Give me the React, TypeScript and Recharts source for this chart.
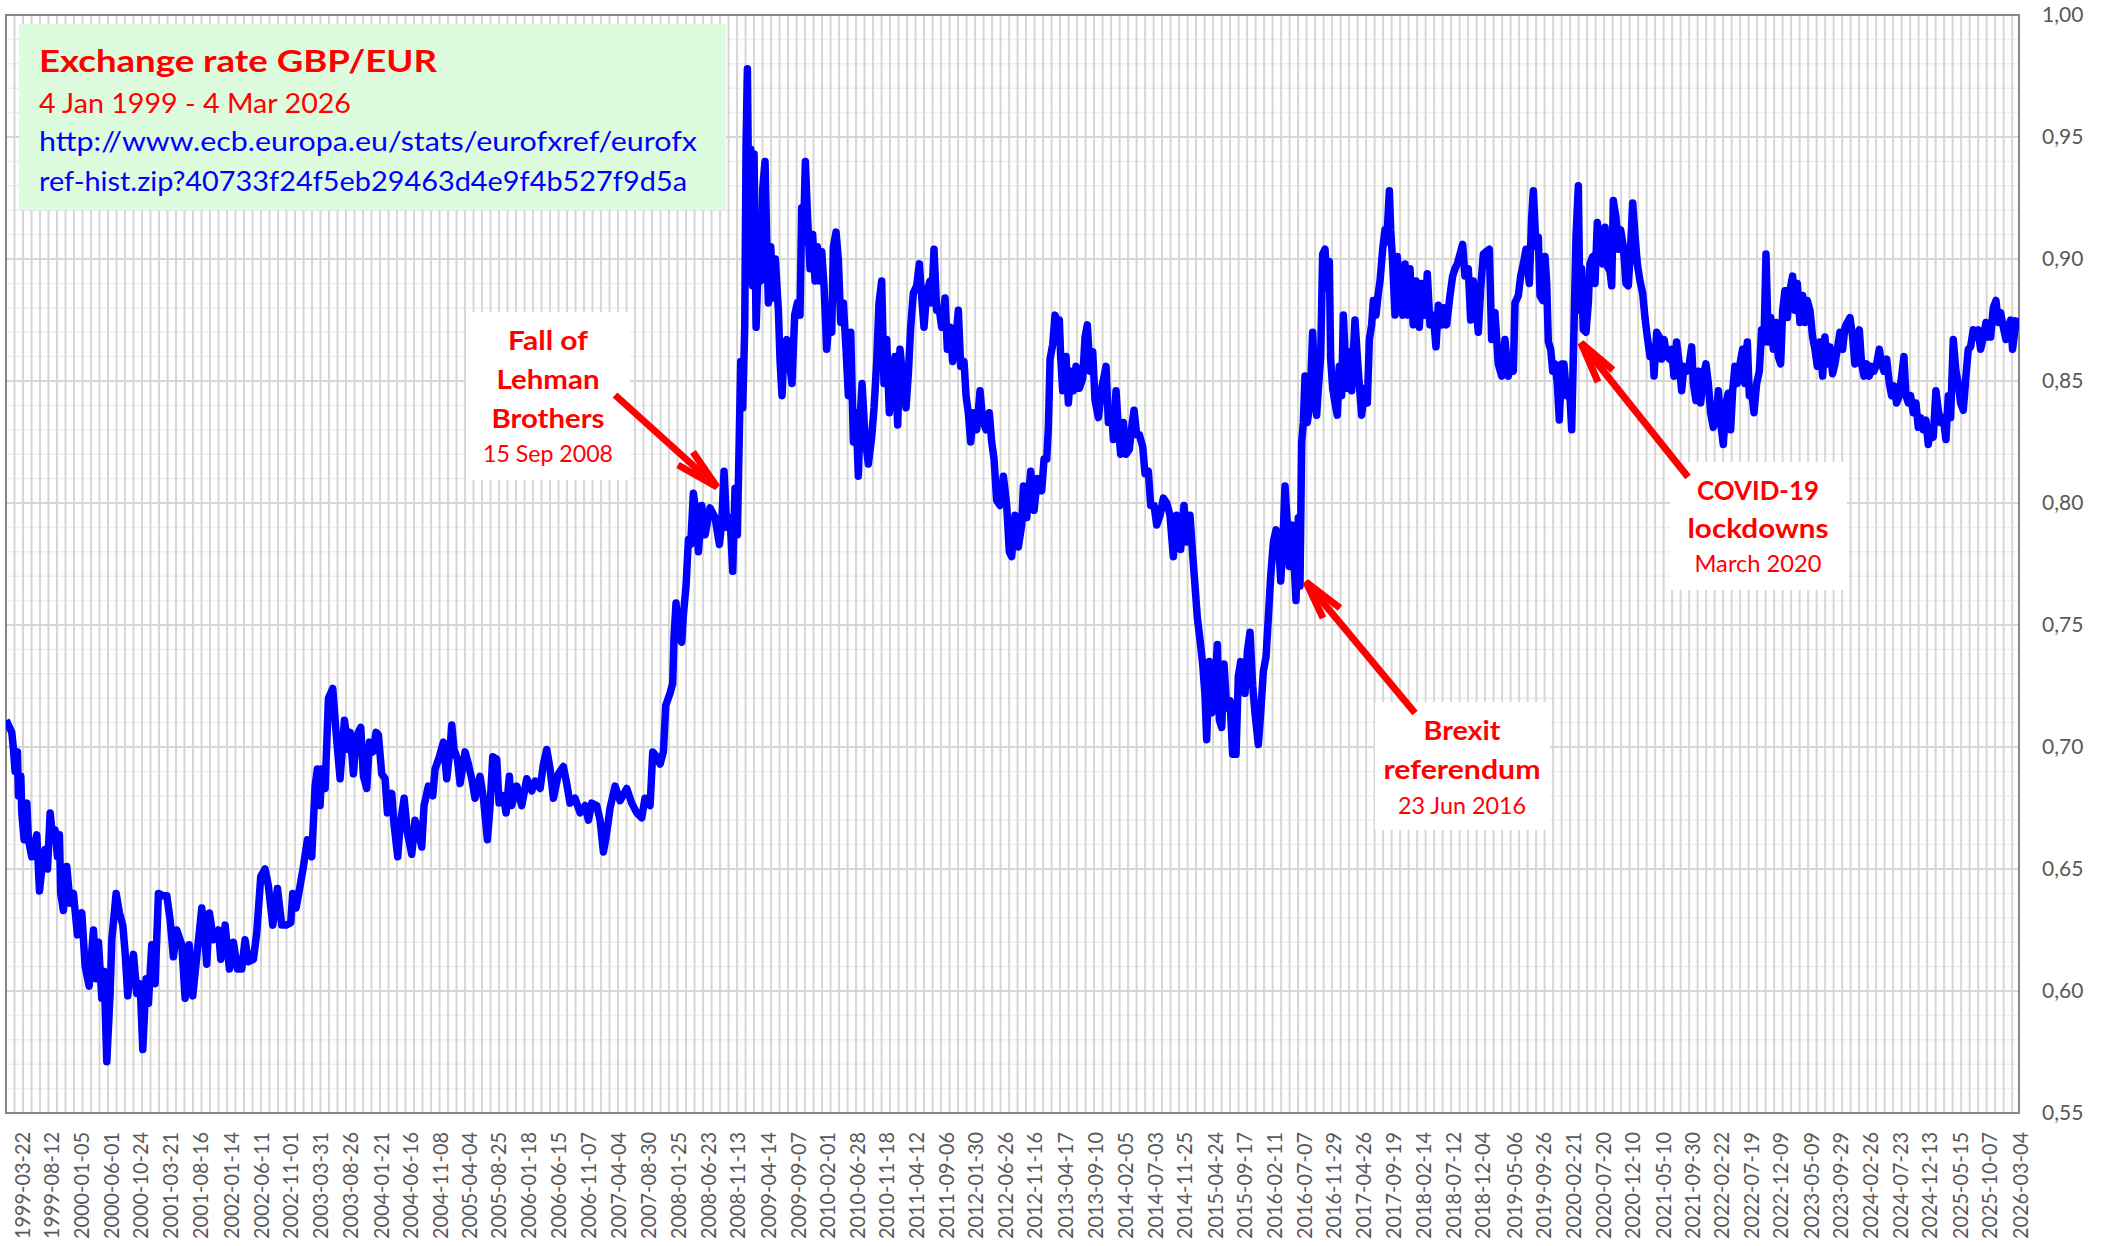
import React from "react";
import {
  LineChart,
  Line,
  XAxis,
  YAxis,
  CartesianGrid,
  ReferenceArea,
} from "recharts";

// values: [decimal year, GBP per EUR]
const rates1999to2005: [number, number][] = [
  [1999.01, 0.711], [1999.086, 0.706], [1999.109, 0.699], [1999.131, 0.69], [1999.163, 0.698],
  [1999.176, 0.68], [1999.208, 0.688], [1999.221, 0.673], [1999.253, 0.662], [1999.289, 0.677],
  [1999.311, 0.662], [1999.356, 0.655], [1999.424, 0.664], [1999.46, 0.641], [1999.491, 0.65],
  [1999.536, 0.658], [1999.568, 0.65], [1999.604, 0.673], [1999.64, 0.662], [1999.671, 0.666],
  [1999.702, 0.655], [1999.729, 0.664], [1999.747, 0.64], [1999.783, 0.633], [1999.828, 0.651],
  [1999.873, 0.636], [1999.918, 0.64], [1999.972, 0.623], [2000.031, 0.632], [2000.076, 0.61],
  [2000.13, 0.602], [2000.188, 0.625], [2000.224, 0.605], [2000.256, 0.62], [2000.301, 0.597],
  [2000.332, 0.608], [2000.368, 0.571], [2000.413, 0.599], [2000.436, 0.621], [2000.494, 0.64],
  [2000.539, 0.632], [2000.584, 0.627], [2000.615, 0.616], [2000.651, 0.598], [2000.692, 0.609],
  [2000.728, 0.615], [2000.773, 0.599], [2000.818, 0.603], [2000.854, 0.576], [2000.899, 0.605],
  [2000.93, 0.595], [2000.975, 0.619], [2001.02, 0.603], [2001.065, 0.64], [2001.133, 0.639],
  [2001.178, 0.639], [2001.223, 0.629], [2001.267, 0.614], [2001.312, 0.625], [2001.38, 0.619],
  [2001.425, 0.597], [2001.479, 0.619], [2001.528, 0.598], [2001.582, 0.614], [2001.65, 0.634],
  [2001.686, 0.624], [2001.717, 0.611], [2001.753, 0.632], [2001.807, 0.621], [2001.875, 0.625],
  [2001.906, 0.613], [2001.965, 0.627], [2002.023, 0.609], [2002.077, 0.62], [2002.131, 0.609],
  [2002.189, 0.609], [2002.234, 0.621], [2002.279, 0.612], [2002.347, 0.613], [2002.392, 0.624],
  [2002.446, 0.647], [2002.504, 0.65], [2002.549, 0.643], [2002.608, 0.627], [2002.671, 0.642],
  [2002.729, 0.627], [2002.788, 0.627], [2002.85, 0.628], [2002.877, 0.64], [2002.922, 0.634],
  [2002.976, 0.643], [2003.021, 0.651], [2003.075, 0.662], [2003.134, 0.655], [2003.179, 0.684],
  [2003.21, 0.691], [2003.246, 0.676], [2003.269, 0.691], [2003.314, 0.683], [2003.359, 0.72],
  [2003.417, 0.724], [2003.462, 0.706], [2003.516, 0.687], [2003.575, 0.711], [2003.628, 0.699],
  [2003.651, 0.706], [2003.696, 0.689], [2003.732, 0.704], [2003.795, 0.708], [2003.831, 0.688],
  [2003.876, 0.683], [2003.912, 0.702], [2003.957, 0.698], [2004.002, 0.706], [2004.033, 0.705],
  [2004.078, 0.689], [2004.123, 0.687], [2004.155, 0.673], [2004.213, 0.681], [2004.245, 0.668],
  [2004.294, 0.655], [2004.326, 0.668], [2004.38, 0.679], [2004.424, 0.665], [2004.483, 0.656],
  [2004.528, 0.67], [2004.573, 0.665], [2004.618, 0.659], [2004.649, 0.676], [2004.708, 0.684],
  [2004.766, 0.68], [2004.798, 0.691], [2004.856, 0.696], [2004.91, 0.702], [2004.955, 0.687],
  [2005.0, 0.699], [2005.023, 0.709], [2005.054, 0.699], [2005.099, 0.695], [2005.135, 0.685],
  [2005.203, 0.698], [2005.247, 0.693], [2005.292, 0.687], [2005.337, 0.679], [2005.405, 0.688],
  [2005.45, 0.679], [2005.504, 0.662], [2005.54, 0.676], [2005.576, 0.696], [2005.63, 0.695],
  [2005.661, 0.677], [2005.72, 0.68], [2005.756, 0.673], [2005.8, 0.688],
];

const rates2005to2012: [number, number][] = [
  [2005.832, 0.676], [2005.9, 0.684], [2005.967, 0.676], [2006.035, 0.687], [2006.102, 0.682],
  [2006.147, 0.686], [2006.215, 0.683], [2006.26, 0.693], [2006.305, 0.699], [2006.35, 0.691],
  [2006.395, 0.679], [2006.462, 0.689], [2006.529, 0.692], [2006.574, 0.685], [2006.619, 0.677],
  [2006.687, 0.679], [2006.754, 0.673], [2006.822, 0.676], [2006.867, 0.67], [2006.912, 0.677],
  [2006.979, 0.676], [2007.024, 0.67], [2007.069, 0.657], [2007.105, 0.663], [2007.159, 0.675],
  [2007.227, 0.684], [2007.294, 0.678], [2007.384, 0.683], [2007.451, 0.677], [2007.519, 0.673],
  [2007.586, 0.671], [2007.631, 0.679], [2007.699, 0.676], [2007.735, 0.698], [2007.789, 0.696],
  [2007.834, 0.693], [2007.879, 0.698], [2007.91, 0.717], [2007.968, 0.722], [2008.004, 0.726],
  [2008.022, 0.745], [2008.049, 0.759], [2008.081, 0.745], [2008.126, 0.743], [2008.148, 0.754],
  [2008.184, 0.766], [2008.216, 0.785], [2008.247, 0.783], [2008.283, 0.804], [2008.328, 0.794],
  [2008.351, 0.78], [2008.396, 0.799], [2008.441, 0.787], [2008.508, 0.798], [2008.576, 0.794],
  [2008.634, 0.783], [2008.666, 0.792], [2008.697, 0.813], [2008.733, 0.79], [2008.778, 0.794],
  [2008.814, 0.772], [2008.845, 0.806], [2008.877, 0.787], [2008.904, 0.83], [2008.922, 0.858],
  [2008.949, 0.839], [2008.976, 0.872], [2008.994, 0.947], [2009.012, 0.978], [2009.039, 0.891],
  [2009.057, 0.945], [2009.084, 0.889], [2009.102, 0.943], [2009.129, 0.872], [2009.16, 0.9],
  [2009.192, 0.891], [2009.219, 0.929], [2009.25, 0.94], [2009.273, 0.907], [2009.295, 0.882],
  [2009.327, 0.905], [2009.363, 0.884], [2009.389, 0.9], [2009.43, 0.879], [2009.453, 0.858],
  [2009.479, 0.844], [2009.506, 0.863], [2009.542, 0.867], [2009.578, 0.858], [2009.614, 0.849],
  [2009.65, 0.877], [2009.686, 0.882], [2009.722, 0.877], [2009.745, 0.921], [2009.767, 0.907],
  [2009.794, 0.94], [2009.821, 0.919], [2009.857, 0.896], [2009.893, 0.91], [2009.925, 0.891],
  [2009.956, 0.905], [2009.983, 0.891], [2010.015, 0.903], [2010.046, 0.889], [2010.082, 0.863],
  [2010.118, 0.877], [2010.15, 0.87], [2010.172, 0.905], [2010.208, 0.911], [2010.239, 0.9],
  [2010.271, 0.874], [2010.307, 0.882], [2010.343, 0.863], [2010.374, 0.844], [2010.406, 0.87],
  [2010.442, 0.825], [2010.478, 0.837], [2010.509, 0.811], [2010.532, 0.834], [2010.559, 0.849],
  [2010.599, 0.827], [2010.644, 0.816], [2010.689, 0.827], [2010.721, 0.839], [2010.757, 0.858],
  [2010.788, 0.882], [2010.824, 0.891], [2010.855, 0.849], [2010.891, 0.867], [2010.927, 0.837],
  [2010.972, 0.849], [2011.004, 0.86], [2011.04, 0.832], [2011.071, 0.863], [2011.116, 0.849],
  [2011.152, 0.839], [2011.184, 0.853], [2011.215, 0.872], [2011.251, 0.886], [2011.296, 0.889],
  [2011.332, 0.898], [2011.364, 0.884], [2011.395, 0.872], [2011.431, 0.886], [2011.476, 0.891],
  [2011.499, 0.882], [2011.53, 0.904], [2011.566, 0.879], [2011.602, 0.879], [2011.634, 0.872],
  [2011.679, 0.884], [2011.71, 0.863], [2011.746, 0.872], [2011.782, 0.858], [2011.813, 0.863],
  [2011.858, 0.879], [2011.89, 0.856], [2011.935, 0.858], [2011.962, 0.844], [2011.993, 0.837],
  [2012.025, 0.825], [2012.061, 0.837], [2012.106, 0.83], [2012.151, 0.846], [2012.187, 0.834],
  [2012.232, 0.83], [2012.276, 0.837], [2012.308, 0.825], [2012.34, 0.818], [2012.376, 0.801],
  [2012.421, 0.799], [2012.466, 0.811], [2012.511, 0.799], [2012.546, 0.78],
];

const rates2012to2019: [number, number][] = [
  [2012.578, 0.778], [2012.623, 0.795], [2012.668, 0.782], [2012.713, 0.791], [2012.736, 0.807],
  [2012.781, 0.794], [2012.835, 0.813], [2012.88, 0.797], [2012.925, 0.81], [2012.983, 0.805],
  [2013.015, 0.818], [2013.051, 0.818], [2013.073, 0.831], [2013.096, 0.859], [2013.132, 0.865],
  [2013.163, 0.877], [2013.194, 0.874], [2013.221, 0.875], [2013.239, 0.86], [2013.266, 0.846],
  [2013.311, 0.86], [2013.343, 0.841], [2013.374, 0.854], [2013.41, 0.846], [2013.446, 0.856],
  [2013.491, 0.847], [2013.536, 0.851], [2013.568, 0.868], [2013.599, 0.873], [2013.635, 0.854],
  [2013.671, 0.862], [2013.703, 0.842], [2013.748, 0.835], [2013.793, 0.847], [2013.851, 0.856],
  [2013.883, 0.833], [2013.928, 0.838], [2013.95, 0.826], [2013.986, 0.846], [2014.017, 0.831],
  [2014.049, 0.82], [2014.085, 0.833], [2014.121, 0.82], [2014.166, 0.822], [2014.197, 0.831],
  [2014.229, 0.838], [2014.265, 0.828], [2014.301, 0.828], [2014.346, 0.823], [2014.377, 0.812],
  [2014.422, 0.813], [2014.454, 0.799], [2014.499, 0.799], [2014.535, 0.791], [2014.58, 0.795],
  [2014.625, 0.802], [2014.67, 0.8], [2014.714, 0.795], [2014.759, 0.778], [2014.804, 0.795],
  [2014.858, 0.781], [2014.903, 0.799], [2014.939, 0.784], [2014.984, 0.795], [2015.02, 0.779],
  [2015.052, 0.766], [2015.083, 0.753], [2015.119, 0.744], [2015.155, 0.734], [2015.187, 0.721],
  [2015.209, 0.703], [2015.245, 0.735], [2015.277, 0.714], [2015.322, 0.725], [2015.353, 0.742],
  [2015.38, 0.711], [2015.412, 0.708], [2015.443, 0.734], [2015.479, 0.716], [2015.524, 0.719],
  [2015.56, 0.697], [2015.605, 0.697], [2015.636, 0.729], [2015.668, 0.735], [2015.695, 0.732],
  [2015.726, 0.722], [2015.758, 0.739], [2015.794, 0.747], [2015.83, 0.725], [2015.861, 0.714],
  [2015.906, 0.701], [2015.938, 0.714], [2015.974, 0.731], [2016.01, 0.737], [2016.041, 0.753],
  [2016.073, 0.77], [2016.109, 0.784], [2016.145, 0.789], [2016.176, 0.786], [2016.208, 0.768],
  [2016.235, 0.782], [2016.266, 0.807], [2016.298, 0.791], [2016.324, 0.774], [2016.356, 0.791],
  [2016.388, 0.776], [2016.414, 0.76], [2016.446, 0.794], [2016.468, 0.766], [2016.491, 0.825],
  [2016.513, 0.833], [2016.536, 0.852], [2016.567, 0.833], [2016.603, 0.841], [2016.639, 0.87],
  [2016.671, 0.847], [2016.693, 0.836], [2016.716, 0.847], [2016.747, 0.86], [2016.774, 0.902],
  [2016.806, 0.904], [2016.837, 0.888], [2016.864, 0.899], [2016.882, 0.859], [2016.909, 0.847],
  [2016.94, 0.841], [2016.972, 0.836], [2016.999, 0.856], [2017.03, 0.844], [2017.053, 0.877],
  [2017.098, 0.847], [2017.134, 0.862], [2017.165, 0.846], [2017.21, 0.875], [2017.255, 0.854],
  [2017.3, 0.836], [2017.345, 0.847], [2017.377, 0.841], [2017.404, 0.867], [2017.435, 0.873],
  [2017.458, 0.883], [2017.494, 0.877], [2017.525, 0.886], [2017.548, 0.891], [2017.584, 0.904],
  [2017.615, 0.912], [2017.638, 0.907], [2017.674, 0.928], [2017.692, 0.912], [2017.718, 0.899],
  [2017.75, 0.877], [2017.781, 0.901], [2017.817, 0.883], [2017.853, 0.877], [2017.885, 0.898],
  [2017.916, 0.877], [2017.952, 0.896], [2017.997, 0.873], [2018.033, 0.891], [2018.078, 0.872],
  [2018.11, 0.89], [2018.155, 0.877], [2018.186, 0.894], [2018.222, 0.873], [2018.267, 0.877],
  [2018.303, 0.864], [2018.335, 0.881], [2018.38, 0.873], [2018.411, 0.88], [2018.447, 0.873],
  [2018.492, 0.885], [2018.528, 0.893], [2018.559, 0.896], [2018.591, 0.898], [2018.627, 0.902],
  [2018.663, 0.906], [2018.694, 0.893], [2018.739, 0.896], [2018.771, 0.875], [2018.807, 0.891],
  [2018.843, 0.881], [2018.874, 0.87], [2018.906, 0.888], [2018.942, 0.902], [2018.978, 0.903],
  [2019.023, 0.904], [2019.054, 0.867], [2019.099, 0.878], [2019.144, 0.857], [2019.189, 0.852],
  [2019.234, 0.867], [2019.279, 0.852],
];

const rates2019to2026: [number, number][] = [
  [2019.302, 0.857], [2019.347, 0.854], [2019.369, 0.882], [2019.414, 0.885], [2019.446, 0.893],
  [2019.482, 0.898], [2019.518, 0.904], [2019.563, 0.89], [2019.594, 0.917], [2019.617, 0.928],
  [2019.653, 0.905], [2019.684, 0.909], [2019.707, 0.885], [2019.743, 0.883], [2019.774, 0.901],
  [2019.797, 0.89], [2019.819, 0.866], [2019.851, 0.863], [2019.878, 0.854], [2019.909, 0.857],
  [2019.94, 0.849], [2019.967, 0.834], [2019.999, 0.857], [2020.03, 0.857], [2020.066, 0.844],
  [2020.102, 0.849], [2020.134, 0.83], [2020.165, 0.871], [2020.192, 0.909], [2020.224, 0.93],
  [2020.246, 0.879], [2020.269, 0.896], [2020.291, 0.871], [2020.327, 0.87], [2020.359, 0.882],
  [2020.381, 0.898], [2020.417, 0.901], [2020.449, 0.89], [2020.48, 0.915], [2020.516, 0.904],
  [2020.552, 0.898], [2020.584, 0.913], [2020.615, 0.897], [2020.651, 0.895], [2020.674, 0.889],
  [2020.696, 0.924], [2020.732, 0.917], [2020.764, 0.904], [2020.795, 0.912], [2020.831, 0.905],
  [2020.867, 0.89], [2020.898, 0.889], [2020.93, 0.905], [2020.957, 0.923], [2020.988, 0.91],
  [2021.02, 0.898], [2021.056, 0.891], [2021.092, 0.886], [2021.123, 0.876], [2021.155, 0.868],
  [2021.191, 0.86], [2021.227, 0.863], [2021.245, 0.852], [2021.281, 0.87], [2021.317, 0.868],
  [2021.348, 0.859], [2021.38, 0.867], [2021.416, 0.861], [2021.452, 0.859], [2021.483, 0.863],
  [2021.514, 0.852], [2021.55, 0.866], [2021.586, 0.857], [2021.618, 0.846], [2021.649, 0.856],
  [2021.685, 0.854], [2021.721, 0.857], [2021.753, 0.864], [2021.775, 0.849], [2021.811, 0.842],
  [2021.843, 0.854], [2021.874, 0.841], [2021.91, 0.852], [2021.946, 0.857], [2021.978, 0.849],
  [2022.009, 0.837], [2022.045, 0.831], [2022.081, 0.835], [2022.113, 0.846], [2022.144, 0.833],
  [2022.18, 0.824], [2022.216, 0.841], [2022.247, 0.845], [2022.279, 0.83], [2022.306, 0.846],
  [2022.337, 0.856], [2022.369, 0.849], [2022.405, 0.857], [2022.441, 0.863], [2022.472, 0.849],
  [2022.504, 0.866], [2022.531, 0.844], [2022.562, 0.846], [2022.594, 0.837], [2022.63, 0.849],
  [2022.666, 0.854], [2022.697, 0.871], [2022.729, 0.866], [2022.756, 0.902], [2022.787, 0.866],
  [2022.819, 0.876], [2022.855, 0.863], [2022.891, 0.874], [2022.922, 0.86], [2022.954, 0.857],
  [2022.981, 0.879], [2023.012, 0.887], [2023.044, 0.876], [2023.079, 0.887], [2023.115, 0.893],
  [2023.147, 0.879], [2023.178, 0.89], [2023.214, 0.874], [2023.25, 0.885], [2023.282, 0.874],
  [2023.313, 0.883], [2023.349, 0.879], [2023.385, 0.868], [2023.417, 0.863], [2023.448, 0.856],
  [2023.484, 0.866], [2023.52, 0.852], [2023.551, 0.868], [2023.583, 0.857], [2023.619, 0.864],
  [2023.655, 0.853], [2023.686, 0.857], [2023.718, 0.863], [2023.754, 0.87], [2023.79, 0.863],
  [2023.821, 0.872], [2023.853, 0.874], [2023.889, 0.876], [2023.925, 0.868], [2023.956, 0.857],
  [2023.988, 0.868], [2024.015, 0.871], [2024.046, 0.857], [2024.078, 0.852], [2024.114, 0.857],
  [2024.15, 0.852], [2024.181, 0.856], [2024.213, 0.854], [2024.249, 0.857], [2024.285, 0.863],
  [2024.316, 0.857], [2024.348, 0.854], [2024.384, 0.859], [2024.42, 0.849], [2024.451, 0.844],
  [2024.483, 0.848], [2024.518, 0.841], [2024.554, 0.844], [2024.586, 0.852], [2024.617, 0.86],
  [2024.644, 0.844], [2024.676, 0.841], [2024.707, 0.844], [2024.743, 0.837], [2024.779, 0.841],
  [2024.811, 0.831], [2024.842, 0.835], [2024.878, 0.83], [2024.914, 0.834], [2024.946, 0.824],
  [2024.977, 0.83], [2025.013, 0.827], [2025.049, 0.846], [2025.081, 0.838], [2025.112, 0.833],
  [2025.148, 0.835], [2025.184, 0.826], [2025.216, 0.844], [2025.247, 0.835], [2025.283, 0.867],
  [2025.319, 0.854], [2025.35, 0.849], [2025.382, 0.841], [2025.418, 0.838], [2025.454, 0.852],
  [2025.485, 0.863], [2025.517, 0.864], [2025.553, 0.871], [2025.589, 0.868], [2025.62, 0.871],
  [2025.652, 0.863], [2025.688, 0.868], [2025.724, 0.874], [2025.755, 0.868], [2025.787, 0.868],
  [2025.823, 0.88], [2025.859, 0.883], [2025.89, 0.874], [2025.922, 0.878], [2025.958, 0.872],
  [2025.994, 0.867], [2026.025, 0.872], [2026.056, 0.875], [2026.083, 0.863], [2026.115, 0.871],
  [2026.146, 0.876],
];

const dateLabels = [
  "1999-03-22", "1999-08-12", "2000-01-05", "2000-06-01", "2000-10-24", "2001-03-21",
  "2001-08-16", "2002-01-14", "2002-06-11", "2002-11-01", "2003-03-31", "2003-08-26",
  "2004-01-21", "2004-06-16", "2004-11-08", "2005-04-04", "2005-08-25", "2006-01-18",
  "2006-06-15", "2006-11-07", "2007-04-04", "2007-08-30", "2008-01-25", "2008-06-23",
  "2008-11-13", "2009-04-14", "2009-09-07", "2010-02-01", "2010-06-28", "2010-11-18",
  "2011-04-12", "2011-09-06", "2012-01-30", "2012-06-26", "2012-11-16", "2013-04-17",
  "2013-09-10", "2014-02-05", "2014-07-03", "2014-11-25", "2015-04-24", "2015-09-17",
  "2016-02-11", "2016-07-07", "2016-11-29", "2017-04-26", "2017-09-19", "2018-02-14",
  "2018-07-12", "2018-12-04", "2019-05-06", "2019-09-26", "2020-02-21", "2020-07-20",
  "2020-12-10", "2021-05-10", "2021-09-30", "2022-02-22", "2022-07-19", "2022-12-09",
  "2023-05-09", "2023-09-29", "2024-02-26", "2024-07-23", "2024-12-13", "2025-05-15",
  "2025-10-07", "2026-03-04",
];

const yTicks = [0.55, 0.6, 0.65, 0.7, 0.75, 0.8, 0.85, 0.9, 0.95, 1.0];

const FONT = "Lato, 'Noto Sans', sans-serif";
const RED = "#ff0000";
const BLUE = "#0000ff";

// date string -> decimal year
const decYear = (s: string) => {
  const [y, m, d] = s.split("-").map(Number);
  const start = Date.UTC(y, 0, 1);
  const days = (Date.UTC(y, m - 1, d) - start) / 86400000;
  const len = (Date.UTC(y + 1, 0, 1) - start) / 86400000;
  return y + days / len;
};

const X0 = decYear("1999-01-04");
const X1 = decYear("2026-03-04");

const data = [
  ...rates1999to2005,
  ...rates2005to2012,
  ...rates2012to2019,
  ...rates2019to2026,
].map(([t, rate]) => ({ t, rate }));

const tickYears = dateLabels.map(decYear);
const labelFor = new Map(tickYears.map((v, i) => [v, dateLabels[i]]));

// dense vertical grid and 0.01 minor horizontal grid
const gridStep = 0.1147;
const gridYears: number[] = [];
for (let v = X0 + gridStep; v < X1 - 0.02; v += gridStep) gridYears.push(v);
const minorValues = Array.from({ length: 46 }, (_, i) => +(0.55 + i * 0.01).toFixed(2));

const DateTick = ({ x, y, payload }: any) => (
  <text
    transform={`translate(${x},${y}) rotate(-90)`}
    textAnchor="end"
    dominantBaseline="central"
    fontSize={21}
    fontFamily={FONT}
    fill="#595959"
    textLength={107}
    lengthAdjust="spacingAndGlyphs"
  >
    {labelFor.get(payload.value)}
  </text>
);

const T = (props: any) => (
  <text
    fontFamily={FONT}
    lengthAdjust="spacingAndGlyphs"
    {...props}
  />
);

const Arrow = ({ tail, tip, w1, w2 }: any) => (
  <g stroke={RED} strokeWidth={7} fill="none">
    <line x1={tail[0]} y1={tail[1]} x2={tip[0]} y2={tip[1]} />
    <polyline points={`${w1[0]},${w1[1]} ${tip[0]},${tip[1]} ${w2[0]},${w2[1]}`} strokeLinejoin="miter" />
  </g>
);

const Annotations = () => (
  <svg
    width={2107}
    height={1246}
    style={{ position: "absolute", left: 0, top: 0, pointerEvents: "none" }}
  >
    <rect x={19} y={24} width={707} height={186} fill="#ddfcdd" />
    <T x={39} y={72} fontSize={31} fontWeight="bold" fill={RED} textLength={398}>
      Exchange rate GBP/EUR
    </T>
    <T x={39} y={113} fontSize={27} fill={RED} textLength={312}>
      4 Jan 1999 - 4 Mar 2026
    </T>
    <T x={39} y={151} fontSize={27} fill={BLUE} textLength={658}>
      http://www.ecb.europa.eu/stats/eurofxref/eurofx
    </T>
    <T x={39} y={191} fontSize={27} fill={BLUE} textLength={648}>
      ref-hist.zip?40733f24f5eb29463d4e9f4b527f9d5a
    </T>

    <rect x={466} y={312} width={164} height={168} fill="#ffffff" />
    <g textAnchor="middle">
      <T x={548} y={350} fontSize={26} fontWeight="bold" fill={RED} textLength={80}>Fall of</T>
      <T x={548} y={389} fontSize={26} fontWeight="bold" fill={RED} textLength={103}>Lehman</T>
      <T x={548} y={428} fontSize={26} fontWeight="bold" fill={RED} textLength={113}>Brothers</T>
      <T x={548} y={462} fontSize={23} fill={RED} textLength={130}>15 Sep 2008</T>
    </g>

    <rect x={1375} y={702} width={175} height={128} fill="#ffffff" />
    <g textAnchor="middle">
      <T x={1462} y={740} fontSize={26} fontWeight="bold" fill={RED} textLength={77}>Brexit</T>
      <T x={1462} y={779} fontSize={26} fontWeight="bold" fill={RED} textLength={157}>referendum</T>
      <T x={1462} y={814} fontSize={23} fill={RED} textLength={128}>23 Jun 2016</T>
    </g>

    <rect x={1670} y={462} width={177} height={128} fill="#ffffff" />
    <g textAnchor="middle">
      <T x={1758} y={500} fontSize={26} fontWeight="bold" fill={RED} textLength={122}>COVID-19</T>
      <T x={1758} y={538} fontSize={26} fontWeight="bold" fill={RED} textLength={141}>lockdowns</T>
      <T x={1758} y={572} fontSize={23} fill={RED} textLength={127}>March 2020</T>
    </g>

    <Arrow tail={[615, 395]} tip={[717, 487]} w1={[678, 465]} w2={[693, 452]} />
    <Arrow tail={[1415, 713]} tip={[1306, 582]} w1={[1323, 618]} w2={[1340, 608]} />
    <Arrow tail={[1688, 477]} tip={[1581, 343]} w1={[1598, 382]} w2={[1613, 370]} />
  </svg>
);

export default function App() {
  return (
    <div
      style={{
        position: "absolute",
        left: 0,
        top: 0,
        width: 2107,
        height: 1246,
        background: "#ffffff",
      }}
    >
      <LineChart
        width={2107}
        height={1246}
        data={data}
        margin={{ top: 15, right: 8, bottom: 0, left: 6 }}
      >
        <CartesianGrid
          vertical={false}
          horizontalValues={minorValues}
          stroke="#eeeeee"
          strokeWidth={1.5}
        />
        <CartesianGrid
          horizontal={false}
          verticalValues={gridYears}
          stroke="#d6d6d6"
          strokeWidth={2}
        />
        <CartesianGrid
          vertical={false}
          horizontalValues={yTicks}
          stroke="#d6d6d6"
          strokeWidth={2}
        />
        <XAxis
          dataKey="t"
          type="number"
          domain={[X0, X1]}
          allowDataOverflow
          ticks={tickYears}
          interval={0}
          tick={<DateTick />}
          tickLine={false}
          axisLine={false}
          tickSize={0}
          tickMargin={19}
          height={133}
        />
        <YAxis
          orientation="right"
          type="number"
          domain={[0.55, 1]}
          allowDataOverflow
          ticks={yTicks}
          interval={0}
          width={80}
          tickLine={false}
          axisLine={false}
          tickSize={0}
          tickMargin={23}
          tickFormatter={(v: number) => v.toFixed(2).replace(".", ",")}
          tick={{ fontSize: 21, fill: "#595959", fontFamily: FONT }}
        />
        <ReferenceArea
          x1={X0}
          x2={X1}
          y1={0.55}
          y2={1}
          fill="none"
          stroke="#878787"
          strokeWidth={2}
          ifOverflow="visible"
        />
        <Line
          type="linear"
          dataKey="rate"
          stroke={BLUE}
          strokeWidth={7.5}
          strokeLinejoin="round"
          dot={false}
          activeDot={false}
          isAnimationActive={false}
        />
      </LineChart>
      <Annotations />
    </div>
  );
}
